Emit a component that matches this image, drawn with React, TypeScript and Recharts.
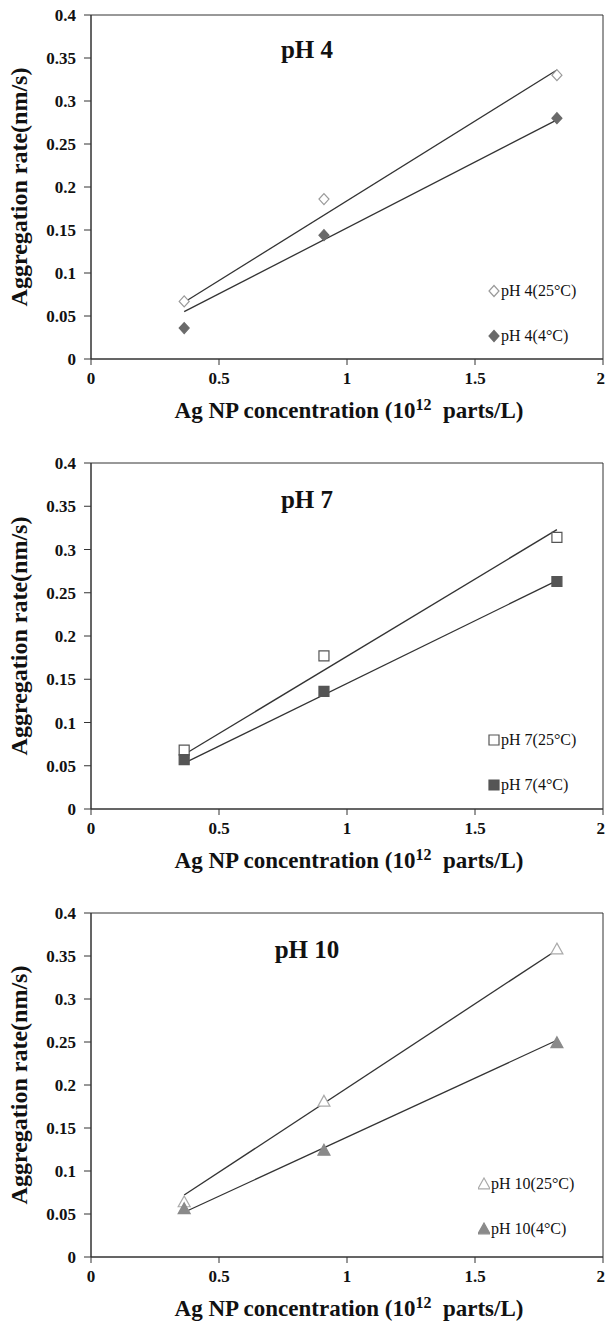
import React from "react";
import { ScatterChart, Scatter, XAxis, YAxis, ZAxis, Legend, ReferenceArea } from "recharts";

// ---- data ----
const X_VALUES = [0.364, 0.91, 1.82];
const TREND_X = [0.364, 1.82];
const X_TICKS = [0, 0.5, 1, 1.5, 2];
const Y_TICKS = [0, 0.05, 0.1, 0.15, 0.2, 0.25, 0.3, 0.35, 0.4];

const PH4_25 = [0.067, 0.186, 0.33];
const PH4_4 = [0.036, 0.144, 0.28];
const PH4_25_TREND = [0.066, 0.336];
const PH4_4_TREND = [0.055, 0.278];

const PH7_25 = [0.068, 0.177, 0.314];
const PH7_4 = [0.057, 0.136, 0.263];
const PH7_25_TREND = [0.063, 0.323];
const PH7_4_TREND = [0.053, 0.264];

const PH10_25 = [0.064, 0.181, 0.358];
const PH10_4 = [0.056, 0.124, 0.249];
const PH10_25_TREND = [0.072, 0.357];
const PH10_4_TREND = [0.052, 0.252];

const toPts = (xs: number[], ys: number[]) => xs.map((x, i) => ({ x, y: ys[i] }));

type Kind = "diamond" | "square" | "triangle";

const FONT = "'Liberation Serif', 'Times New Roman', serif";

function markerPath(kind: Kind, cx: number, cy: number) {
  if (kind === "diamond") {
    const h = 5.5, w = 5;
    return `M${cx},${cy - h}L${cx + w},${cy}L${cx},${cy + h}L${cx - w},${cy}Z`;
  }
  if (kind === "square") {
    const s = 5;
    return `M${cx - s},${cy - s}L${cx + s},${cy - s}L${cx + s},${cy + s}L${cx - s},${cy + s}Z`;
  }
  const s = 6;
  return `M${cx},${cy - s}L${cx + s},${cy + s * 0.8}L${cx - s},${cy + s * 0.8}Z`;
}

const makeShape = (kind: Kind, fill: string, stroke: string) => (props: any) => {
  const { cx, cy } = props;
  if (cx == null || cy == null) return <g />;
  return <path d={markerPath(kind, cx, cy)} fill={fill} stroke={stroke} strokeWidth={1.2} />;
};

interface SeriesDef {
  name: string;
  values: number[];
  trend: number[];
  kind: Kind;
  fill: string;
  stroke: string;
}

interface PanelDef {
  title: string;
  top: number;
  height: number;
  marginTop: number;
  plotHeight: number;
  titleY: number;
  legendX: number;
  legendY: number;
  series: SeriesDef[];
}

const PANELS: PanelDef[] = [
  {
    title: "pH 4", top: 0, height: 447, marginTop: 15, plotHeight: 344, titleY: 50, legendX: 494, legendY: 290,
    series: [
      { name: "pH 4(25°C)", values: PH4_25, trend: PH4_25_TREND, kind: "diamond", fill: "#ffffff", stroke: "#9a9a9a" },
      { name: "pH 4(4°C)", values: PH4_4, trend: PH4_4_TREND, kind: "diamond", fill: "#6a6a6a", stroke: "#6a6a6a" },
    ],
  },
  {
    title: "pH 7", top: 447, height: 447, marginTop: 16, plotHeight: 346, titleY: 53, legendX: 494, legendY: 292,
    series: [
      { name: "pH 7(25°C)", values: PH7_25, trend: PH7_25_TREND, kind: "square", fill: "#ffffff", stroke: "#555555" },
      { name: "pH 7(4°C)", values: PH7_4, trend: PH7_4_TREND, kind: "square", fill: "#555555", stroke: "#555555" },
    ],
  },
  {
    title: "pH 10", top: 894, height: 427, marginTop: 19, plotHeight: 344, titleY: 56, legendX: 484, legendY: 289,
    series: [
      { name: "pH 10(25°C)", values: PH10_25, trend: PH10_25_TREND, kind: "triangle", fill: "#ffffff", stroke: "#aaaaaa" },
      { name: "pH 10(4°C)", values: PH10_4, trend: PH10_4_TREND, kind: "triangle", fill: "#8a8a8a", stroke: "#8a8a8a" },
    ],
  },
];

const LegendBox = ({ series }: { series: SeriesDef[] }) => (
  <div style={{ fontFamily: FONT, fontSize: 16, color: "#111" }}>
    {series.map((s) => (
      <div key={s.name} style={{ display: "flex", alignItems: "center", height: 45 }}>
        <svg width={12} height={14} style={{ marginRight: 1 }}>
          <path d={markerPath(s.kind, 6, 7)} fill={s.fill} stroke={s.stroke} strokeWidth={1.2} />
        </svg>
        <span>{s.name}</span>
      </div>
    ))}
  </div>
);

const XTitle = (props: any) => {
  const vb = props.viewBox || {};
  return (
    <text x={vb.x + vb.width / 2 + 2} y={vb.y + 59} textAnchor="middle" fontFamily={FONT} fontWeight="bold" fontSize={23} fill="#111">
      Ag NP concentration (10
      <tspan fontSize={16} dy={-8}>12</tspan>
      <tspan dy={8}>{"\u00a0\u00a0parts/L)"}</tspan>
    </text>
  );
};

const YTitle = (props: any) => {
  const vb = props.viewBox || {};
  const cy = vb.y + vb.height / 2;
  return (
    <text x={19} y={cy} transform={`rotate(-90, 19, ${cy})`} textAnchor="middle" dominantBaseline="central" fontFamily={FONT} fontWeight="bold" fontSize={24} fill="#111">
      Aggregation rate(nm/s)
    </text>
  );
};

const tickStyle = { fontFamily: FONT, fontWeight: "bold" as const, fontSize: 17, fill: "#111" };

const Panel = ({ p }: { p: PanelDef }) => {
  const xAxisH = 60;
  const mb = p.height - p.marginTop - p.plotHeight - xAxisH;
  return (
    <div style={{ position: "absolute", left: 0, top: p.top, width: 605, height: p.height }}>
      <ScatterChart width={605} height={p.height} margin={{ top: p.marginTop, right: 2, left: 31, bottom: mb }}>
        <XAxis type="number" dataKey="x" domain={[0, 2]} ticks={X_TICKS} height={xAxisH} tick={tickStyle}
          axisLine={{ stroke: "#333" }} tickLine={{ stroke: "#333" }} tickSize={6} tickMargin={7} allowDataOverflow
          label={<XTitle />} />
        <YAxis type="number" dataKey="y" domain={[0, 0.4]} ticks={Y_TICKS} width={60} tick={tickStyle}
          axisLine={{ stroke: "#333" }} tickLine={{ stroke: "#333" }} tickSize={7} tickMargin={8} allowDataOverflow
          label={<YTitle />} />
        <ZAxis range={[100, 100]} />
        <ReferenceArea x1={0} x2={2} y1={0} y2={0.4} fill="none" stroke="#333" strokeWidth={1} ifOverflow="visible" />
        {p.series.map((s) => (
          <Scatter key={s.name + "-trend"} name={s.name + " trend"} data={toPts(TREND_X, s.trend)} isAnimationActive={false}
            line={{ stroke: "#333", strokeWidth: 1.3 }} shape={() => <g />} legendType="none" />
        ))}
        {p.series.map((s) => (
          <Scatter key={s.name} name={s.name} data={toPts(X_VALUES, s.values)} isAnimationActive={false}
            shape={makeShape(s.kind, s.fill, s.stroke)} />
        ))}
        <Legend layout="vertical" align="center" verticalAlign="middle"
          wrapperStyle={{ position: "absolute", left: p.legendX - 6, top: p.legendY - 22, width: 115 }}
          content={() => <LegendBox series={p.series} />} />
      </ScatterChart>
      <div style={{ position: "absolute", left: 257, width: 100, top: p.titleY - 15, textAlign: "center", fontFamily: FONT, fontWeight: "bold", fontSize: 25, lineHeight: "30px", color: "#111" }}>
        {p.title}
      </div>
    </div>
  );
};

export default function App() {
  return (
    <div style={{ position: "absolute", left: 0, top: 0, width: 605, height: 1321, background: "#fff", fontFamily: FONT }}>
      {PANELS.map((p) => (
        <Panel key={p.title} p={p} />
      ))}
    </div>
  );
}
